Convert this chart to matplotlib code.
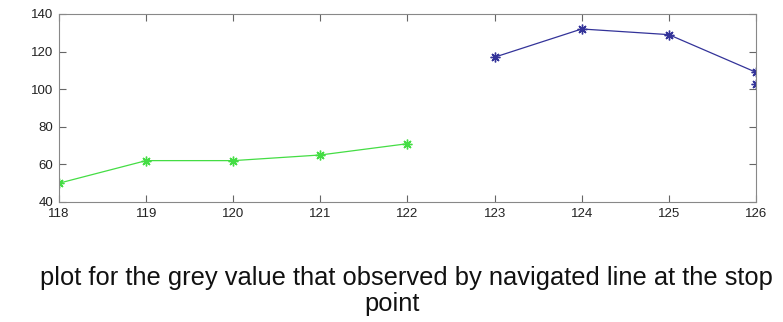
import matplotlib
matplotlib.use("Agg")
import matplotlib.pyplot as plt

# data
green_x = [118, 119, 120, 121, 122]
green_y = [50, 62, 62, 65, 71]
blue_x = [123, 124, 125, 126]
blue_y = [117, 132, 129, 109]
extra_x = [126]
extra_y = [103]

xticks = [118, 119, 120, 121, 122, 123, 124, 125, 126]
yticks = [40, 60, 80, 100, 120, 140]
caption_1 = "plot for the grey value that observed by navigated line at the stop"
caption_2 = "point"

plt.rcParams['font.family'] = ['Liberation Sans', 'DejaVu Sans']

fig = plt.figure(figsize=(7.83, 3.22), dpi=100)
ax = fig.add_axes([0.0754, 0.3727, 0.89, 0.584])

star = (8, 2, 0)  # matlab-like asterisk
ax.plot(green_x, green_y, color='#44dd44', marker=star, markersize=7,
        markeredgewidth=1.0, linewidth=0.9)
ax.plot(blue_x, blue_y, color='#333399', marker=star, markersize=7,
        markeredgewidth=1.0, linewidth=0.9)
ax.plot(extra_x, extra_y, color='#333399', marker=star, markersize=7,
        markeredgewidth=1.0, linestyle='none')

ax.set_xlim(118, 126)
ax.set_ylim(40, 140)
ax.set_xticks(xticks)
ax.set_yticks(yticks)
ax.tick_params(direction='in', top=True, right=True, length=5, labelsize=9.5,
               colors='#666666', labelcolor='#222222')
ax.tick_params(axis='x', pad=4)
ax.tick_params(axis='y', pad=4)
for s in ax.spines.values():
    s.set_color('#888888')

# caption, two lines as in the source figure
fig.text(406 / 783, 1 - 285 / 322, caption_1, ha='center', va='baseline',
         fontsize=18.4, color='#111111')
fig.text(392 / 783, 1 - 311 / 322, caption_2, ha='center', va='baseline',
         fontsize=18.4, color='#111111')

fig.savefig("out.png", dpi=100)
